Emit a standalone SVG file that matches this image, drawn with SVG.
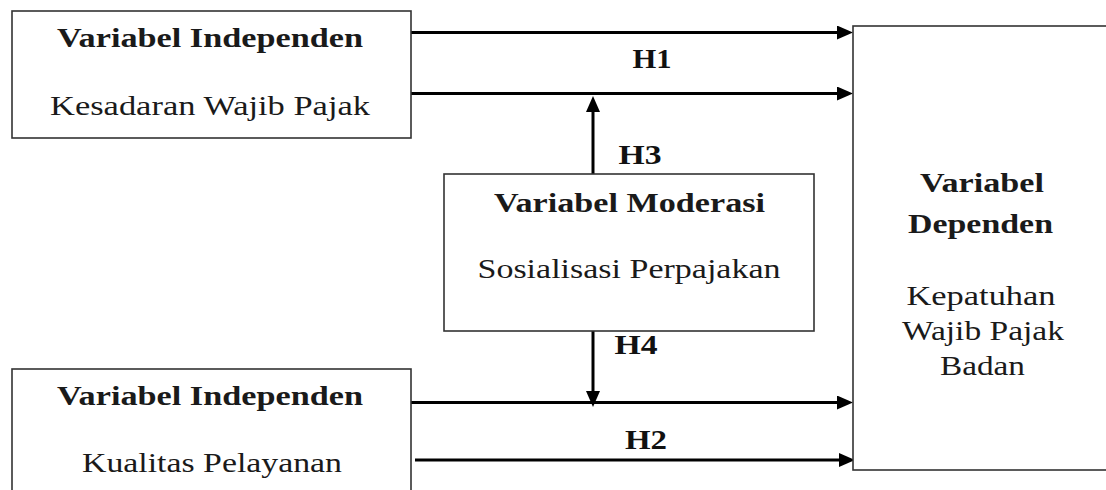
<svg xmlns="http://www.w3.org/2000/svg" width="1106" height="490" viewBox="0 0 1106 490">
  <style>
    .box { fill: #ffffff; stroke: #333333; stroke-width: 1.6; }
    .conn { stroke: #000000; stroke-width: 3; fill: none; }
    .t { fill: #1a1a1a; text-anchor: middle; }
    .h { fill: #111111; text-anchor: middle; }
  </style>
  <defs>
    <marker id="arr" viewBox="0 0 16 14" refX="2" refY="7" markerWidth="16" markerHeight="14" markerUnits="userSpaceOnUse" orient="auto">
      <path d="M0,0 L16,7 L0,14 Z" fill="#000000"/>
    </marker>
  </defs>
  <rect width="1106" height="490" fill="#ffffff"/>

  <g id="connectors">
    <line class="conn" x1="411" y1="32.5" x2="839" y2="32.5" marker-end="url(#arr)"/>
    <line class="conn" x1="411" y1="93.5" x2="839" y2="93.5" marker-end="url(#arr)"/>
    <line class="conn" x1="411" y1="402.5" x2="839" y2="402.5" marker-end="url(#arr)"/>
    <line class="conn" x1="415" y1="460" x2="841" y2="460" marker-end="url(#arr)"/>
    <line class="conn" x1="593" y1="174" x2="593" y2="110" marker-end="url(#arr)"/>
    <line class="conn" x1="593" y1="331" x2="593" y2="393" marker-end="url(#arr)"/>
    <text class="h" font-family="Liberation Serif" font-weight="bold" font-size="28" x="652" y="68" textLength="39" lengthAdjust="spacingAndGlyphs">H1</text>
    <text class="h" font-family="Liberation Serif" font-weight="bold" font-size="28" x="640" y="164" textLength="43" lengthAdjust="spacingAndGlyphs">H3</text>
    <text class="h" font-family="Liberation Serif" font-weight="bold" font-size="28" x="636" y="354" textLength="43" lengthAdjust="spacingAndGlyphs">H4</text>
    <text class="h" font-family="Liberation Serif" font-weight="bold" font-size="28" x="646" y="449" textLength="42" lengthAdjust="spacingAndGlyphs">H2</text>
  </g>

  <g id="node-kesadaran">
    <rect class="box" x="12" y="11" width="399" height="127"/>
    <text class="t" font-family="Liberation Serif" font-weight="bold" font-size="27" x="210" y="47" textLength="306" lengthAdjust="spacingAndGlyphs">Variabel Independen</text>
    <text class="t" font-family="Liberation Serif" font-size="27" x="210" y="115" textLength="320" lengthAdjust="spacingAndGlyphs">Kesadaran Wajib Pajak</text>
  </g>

  <g id="node-kualitas">
    <rect class="box" x="12" y="369" width="399" height="140"/>
    <text class="t" font-family="Liberation Serif" font-weight="bold" font-size="27" x="210" y="405" textLength="306" lengthAdjust="spacingAndGlyphs">Variabel Independen</text>
    <text class="t" font-family="Liberation Serif" font-size="27" x="212" y="472" textLength="260" lengthAdjust="spacingAndGlyphs">Kualitas Pelayanan</text>
  </g>

  <g id="node-moderasi">
    <rect class="box" x="444" y="174" width="370" height="157"/>
    <text class="t" font-family="Liberation Serif" font-weight="bold" font-size="27" x="629.5" y="212" textLength="271" lengthAdjust="spacingAndGlyphs">Variabel Moderasi</text>
    <text class="t" font-family="Liberation Serif" font-size="27" x="629" y="278" textLength="303" lengthAdjust="spacingAndGlyphs">Sosialisasi Perpajakan</text>
  </g>

  <g id="node-dependen">
    <rect class="box" x="853" y="26" width="270" height="444"/>
    <text class="t" font-family="Liberation Serif" font-weight="bold" font-size="27" x="982" y="192" textLength="124" lengthAdjust="spacingAndGlyphs">Variabel</text>
    <text class="t" font-family="Liberation Serif" font-weight="bold" font-size="27" x="980.5" y="233" textLength="145" lengthAdjust="spacingAndGlyphs">Dependen</text>
    <text class="t" font-family="Liberation Serif" font-size="27" x="981" y="305" textLength="149" lengthAdjust="spacingAndGlyphs">Kepatuhan</text>
    <text class="t" font-family="Liberation Serif" font-size="27" x="983" y="340" textLength="162" lengthAdjust="spacingAndGlyphs">Wajib Pajak</text>
    <text class="t" font-family="Liberation Serif" font-size="27" x="982.5" y="375" textLength="85" lengthAdjust="spacingAndGlyphs">Badan</text>
  </g>
</svg>
